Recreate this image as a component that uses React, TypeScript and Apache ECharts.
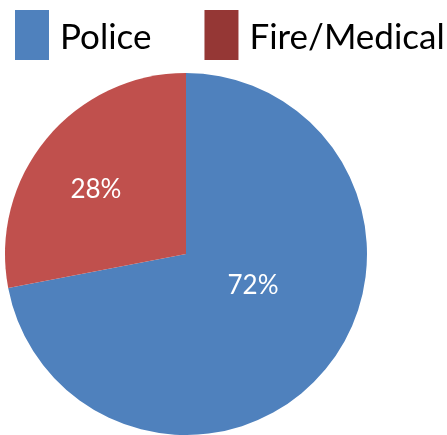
import React, { useEffect, useRef } from "react";
import * as echarts from "echarts";

const categories = ["Police", "Fire/Medical"];
const values = [72, 28];
const sliceColors = ["#4F81BD", "#C0504D"];
const legendColors = ["#4F81BD", "#953735"];
const labelOffsets: [number, number][] = [
  [-5, -30],
  [-18, -6],
];

export default function App() {
  const ref = useRef<HTMLDivElement>(null);
  useEffect(() => {
    if (!ref.current) return;
    const chart = echarts.init(ref.current, undefined, { renderer: "svg" });
    chart.setOption({
      animation: false,
      legend: {
        left: 15,
        top: 10,
        width: 440,
        orient: "horizontal",
        padding: 0,
        itemWidth: 34,
        itemHeight: 50,
        itemGap: 53,
        icon: "rect",
        selectedMode: false,
        textStyle: {
          fontFamily: "Lato",
          fontSize: 35,
          color: "#000",
          padding: [0, 0, 6, 6],
        },
        data: categories.map((c, i) => ({
          name: c,
          itemStyle: { color: legendColors[i] },
        })),
      },
      series: [
        {
          type: "pie",
          center: [186, 254],
          radius: 181,
          startAngle: 90,
          clockwise: true,
          label: {
            show: true,
            position: "inside",
            formatter: "{c}%",
            color: "#fff",
            fontFamily: "Lato",
            fontSize: 26,
          },
          labelLine: { show: false },
          itemStyle: { borderWidth: 0 },
          emphasis: { disabled: true },
          data: categories.map((c, i) => ({
            name: c,
            value: values[i],
            itemStyle: { color: sliceColors[i] },
            label: { offset: labelOffsets[i] },
          })),
        },
      ],
    });
    return () => chart.dispose();
  }, []);
  return (
    <div
      ref={ref}
      style={{ position: "fixed", left: 0, top: 0, width: 447, height: 435 }}
    />
  );
}
